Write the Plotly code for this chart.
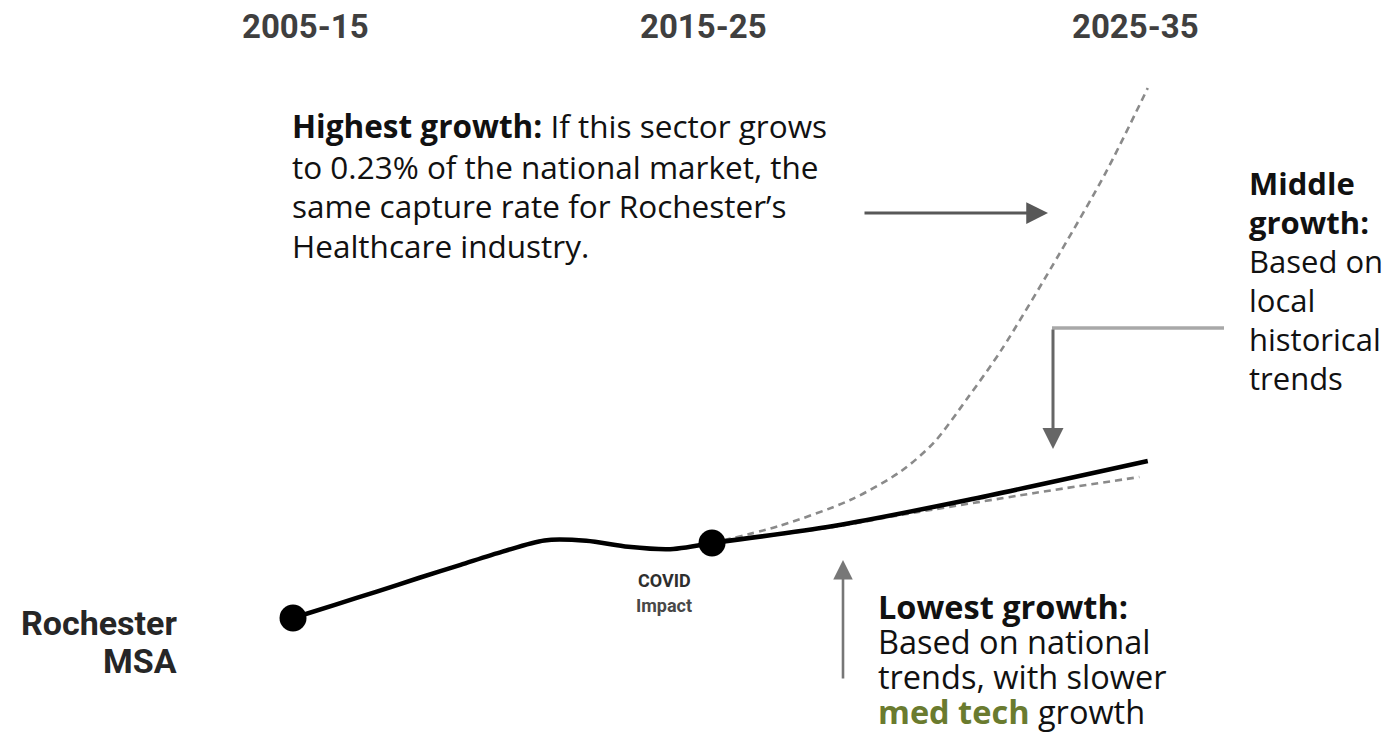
import plotly.graph_objects as go

# Historical employment index for the Rochester MSA healthcare sector
HIST_YEARS = [2010, 2011, 2012, 2013, 2014, 2015, 2016, 2017, 2018, 2019, 2020]
HIST_INDEX = [100.0, 103.3, 106.6, 110.0, 113.3, 116.6, 119.4, 119.3, 117.8, 117.2, 118.75]

# Projection scenarios from 2020 onward
MID_YEARS = [2020.0, 2022.9, 2026.1, 2030.4]
MID_INDEX = [118.75, 123.0, 129.5, 139.25]

LOW_YEARS = [2020.0, 2022.9, 2024.5, 2027.7, 2030.2]
LOW_INDEX = [118.75, 122.75, 125.75, 131.25, 135.25]

HIGH_YEARS = [2020.0, 2021.6, 2023.3, 2024.5, 2025.3, 2026.1, 2026.9, 2028.3, 2029.4, 2030.4]
HIGH_INDEX = [118.75, 123.0, 129.5, 136.6, 143.9, 155.0, 166.9, 191.2, 211.4, 232.5]

# Anchor points marked with dots
DOT_YEARS = [2010, 2020]
DOT_INDEX = [100.0, 118.75]

# Period headings along the top
PERIOD_LABELS = ["2005-15", "2015-25", "2025-35"]
PERIOD_CENTERS = [2010.3, 2019.8, 2030.1]

W, H = 1393, 744
X_RANGE = [2003.007, 2036.253]
Y_RANGE = [68.5, 254.5]

BODY_FONT = "Open Sans"
HEAD_FONT = "Roboto"
OLIVE = "#6a7b2f"


def px(x):
    return x / W


def py(y):
    return 1 - y / H


fig = go.Figure()

dash_style = dict(color="#8a8a8a", width=2.6, dash="7px,5px", shape="spline", smoothing=0.8)
fig.add_trace(go.Scatter(x=LOW_YEARS, y=LOW_INDEX, mode="lines", line=dash_style, hoverinfo="skip"))
fig.add_trace(go.Scatter(x=HIGH_YEARS, y=HIGH_INDEX, mode="lines", line=dash_style, hoverinfo="skip"))

solid_style = dict(color="#000000", width=4.5, shape="spline", smoothing=0.8)
fig.add_trace(go.Scatter(x=HIST_YEARS, y=HIST_INDEX, mode="lines", line=solid_style, hoverinfo="skip"))
fig.add_trace(go.Scatter(x=MID_YEARS, y=MID_INDEX, mode="lines", line=solid_style, hoverinfo="skip"))

fig.add_trace(go.Scatter(x=DOT_YEARS, y=DOT_INDEX, mode="markers",
                         marker=dict(color="#000000", size=27), hoverinfo="skip"))

annotations = []

# Period headings
for label, center in zip(PERIOD_LABELS, PERIOD_CENTERS):
    annotations.append(dict(x=center, xref="x", y=py(27), yref="paper", text=f"<b>{label}</b>",
                            showarrow=False, xanchor="center", yanchor="middle",
                            font=dict(family=HEAD_FONT, size=33, color="#3f3f3f")))

# Series label on the left
for text, yc in [("Rochester", 623), ("MSA", 661)]:
    annotations.append(dict(x=px(179), xref="paper", y=py(yc), yref="paper", text=f"<b>{text}</b>",
                            showarrow=False, xanchor="right", yanchor="middle",
                            font=dict(family=HEAD_FONT, size=34, color="#262626")))

# COVID marker note
for text, yc, col in [("<b>COVID</b>", 580, "#2e2e2e"), ("<b>Impact</b>", 605, "#484848")]:
    annotations.append(dict(x=px(664), xref="paper", y=py(yc), yref="paper", text=text,
                            showarrow=False, xanchor="center", yanchor="middle",
                            font=dict(family=HEAD_FONT, size=18, color=col)))


def text_block(lines, x_left, centers, size):
    for line, yc in zip(lines, centers):
        annotations.append(dict(x=px(x_left), xref="paper", y=py(yc), yref="paper", text=line,
                                showarrow=False, xanchor="left", yanchor="middle",
                                font=dict(family=BODY_FONT, size=size, color="#111111")))


text_block(["<b>Highest growth:</b> If this sector grows",
            "to 0.23% of the national market, the",
            "same capture rate for Rochester\u2019s",
            "Healthcare industry."],
           290, [126, 166, 206, 246], 31.5)

text_block(["<b>Middle</b>", "<b>growth:</b>", "Based on", "local", "historical", "trends"],
           1247, [183, 222, 261, 300, 339, 378], 31)

text_block(["<b>Lowest growth:</b>",
            "Based on national",
            "trends, with slower",
            f"<b><span style='color:{OLIVE}'>med tech</span></b> growth"],
           876, [606, 641, 676, 711], 32.5)


def arrow(tip_x, tip_y, tail_x, tail_y, color, width, size):
    annotations.append(dict(x=px(tip_x), y=py(tip_y), xref="paper", yref="paper",
                            ax=tail_x - tip_x, ay=tail_y - tip_y, axref="pixel", ayref="pixel",
                            showarrow=True, arrowhead=2, arrowsize=size, arrowwidth=width,
                            arrowcolor=color, text=""))


# Pointer arrows
arrow(1048, 213, 863, 213, "#585858", 3, 1.45)
arrow(1053, 449, 1053, 328, "#666666", 3, 1.4)
arrow(843, 560, 843, 680, "#777777", 2.6, 1.5)

shapes = [dict(type="line", xref="paper", yref="paper",
               x0=px(1052), y0=py(328), x1=px(1224), y1=py(328),
               line=dict(color="#a8a8a8", width=3.5))]

fig.update_layout(
    width=W, height=H,
    margin=dict(l=0, r=0, t=0, b=0),
    paper_bgcolor="white", plot_bgcolor="white",
    showlegend=False,
    xaxis=dict(range=X_RANGE, visible=False, fixedrange=True),
    yaxis=dict(range=Y_RANGE, visible=False, fixedrange=True),
    annotations=annotations,
    shapes=shapes,
)

fig.write_html("out.html", config={"displayModeBar": False})
